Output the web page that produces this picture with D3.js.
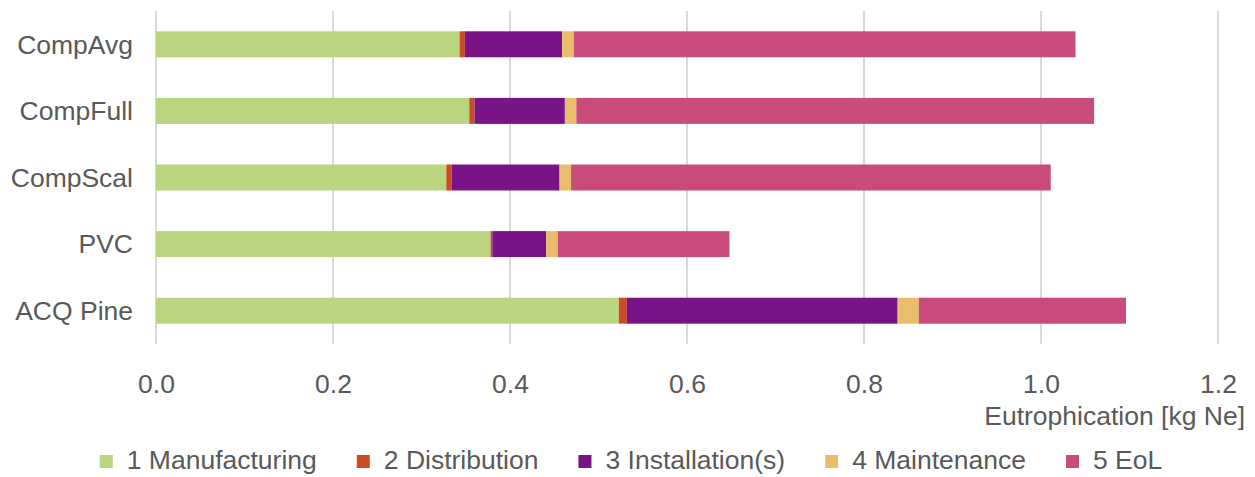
<!DOCTYPE html>
<html lang="en">
<head>
    <meta charset="UTF-8">
    <script src="https://cdn.jsdelivr.net/npm/d3@7/dist/d3.min.js"></script>
    <title>Eutrophication</title>
    <style>
        body { margin: 0; background: #fff; }
        text { font-family: "Liberation Sans", Arial, sans-serif; fill: #595959; }
    </style>
</head>
<body>

<svg width="1255" height="477"></svg>

<script>
    // values (kg Ne)
    const categories = ["CompAvg", "CompFull", "CompScal", "PVC", "ACQ Pine"];
    const stages = ["1 Manufacturing", "2 Distribution", "3 Installation(s)", "4 Maintenance", "5 EoL"];
    const manufacturing = [0.343, 0.354, 0.328, 0.378, 0.523];
    const distribution  = [0.006, 0.006, 0.006, 0.002, 0.009];
    const installation  = [0.110, 0.102, 0.122, 0.061, 0.306];
    const maintenance   = [0.013, 0.013, 0.013, 0.013, 0.024];
    const eol           = [0.567, 0.585, 0.542, 0.194, 0.234];
    const xTicks = [0, 0.2, 0.4, 0.6, 0.8, 1.0, 1.2];
    const colors = ["#bbd47f", "#cb4b24", "#7a1387", "#e8bd6b", "#c94b7b"];

    const series = [manufacturing, distribution, installation, maintenance, eol];
    const rows = categories.map((c, i) => {
        const r = {name: c};
        stages.forEach((s, j) => r[s] = series[j][i]);
        return r;
    });

    const width = 1255;
    const height = 477;
    const margin = {top: 11, right: 37, bottom: 133, left: 156};
    const fontSize = 26.5;

    const x = d3.scaleLinear()
        .domain([0, 1.2])
        .range([margin.left, width - margin.right]);

    const y = d3.scaleBand()
        .domain(categories)
        .range([margin.top, height - margin.bottom])
        .paddingInner(0.61)
        .paddingOuter(0.305);

    const stack = d3.stack().keys(stages)(rows);

    const svg = d3.select("svg");

    // gridlines
    svg.append("g")
        .selectAll("line")
        .data(xTicks)
        .join("line")
        .attr("x1", d => x(d))
        .attr("x2", d => x(d))
        .attr("y1", margin.top)
        .attr("y2", height - margin.bottom)
        .attr("stroke", "#d9d9d9")
        .attr("stroke-width", 2);

    // bars
    svg.append("g")
        .selectAll("g")
        .data(stack)
        .join("g")
        .attr("fill", (d, i) => colors[i])
        .selectAll("rect")
        .data(d => d)
        .join("rect")
        .attr("x", d => x(d[0]))
        .attr("y", d => y(d.data.name))
        .attr("width", d => x(d[1]) - x(d[0]))
        .attr("height", y.bandwidth());

    // x axis labels
    const xAxis = svg.append("g")
        .attr("transform", `translate(0,${height - margin.bottom})`)
        .call(d3.axisBottom(x).tickValues(xTicks).tickFormat(d3.format(".1f")).tickSize(0).tickPadding(30));
    xAxis.select(".domain").remove();
    xAxis.attr("font-family", null).attr("font-size", null);
    xAxis.selectAll("text")
        .attr("font-size", fontSize)
        .attr("fill", "#595959");

    // category labels
    svg.append("g")
        .selectAll("text")
        .data(categories)
        .join("text")
        .attr("x", margin.left - 23)
        .attr("y", d => y(d) + y.bandwidth() / 2)
        .attr("dy", "0.35em")
        .attr("text-anchor", "end")
        .attr("font-size", fontSize)
        .text(d => d);

    // axis title
    svg.append("text")
        .attr("x", 1245)
        .attr("y", 425)
        .attr("text-anchor", "end")
        .attr("font-size", fontSize)
        .text("Eutrophication [kg Ne]");

    // legend
    const legend = svg.append("g").attr("transform", "translate(0,469)");
    const items = legend.selectAll("g")
        .data(stages)
        .join("g");
    items.append("rect")
        .attr("y", -14)
        .attr("width", 13)
        .attr("height", 13)
        .attr("fill", (d, i) => colors[i]);
    items.append("text")
        .attr("x", 27)
        .attr("font-size", fontSize)
        .text(d => d);

    let pos = 0;
    const offsets = [];
    items.each(function() {
        offsets.push(pos);
        const w = 27 + d3.select(this).select("text").node().getComputedTextLength();
        pos += w + 40;
    });
    const total = pos - 40;
    const start = 631 - total / 2;
    items.attr("transform", (d, i) => `translate(${start + offsets[i]},0)`);
</script>

</body>
</html>
